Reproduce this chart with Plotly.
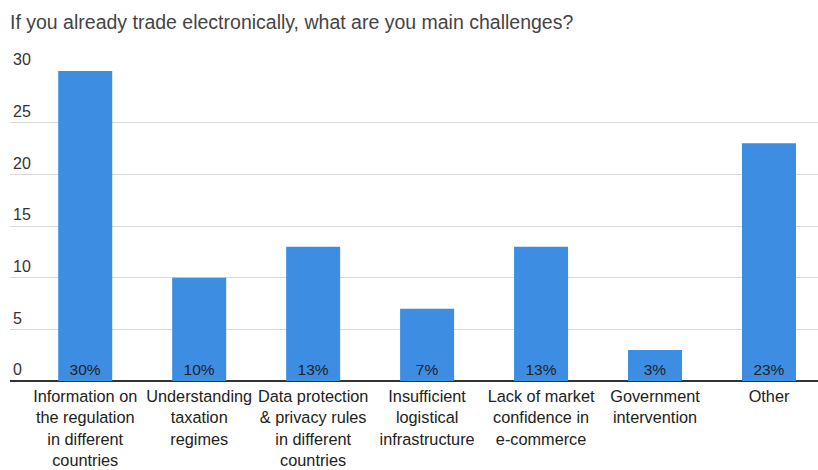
import plotly.graph_objects as go

categories = [
    "Information on<br>the regulation<br>in different<br>countries",
    "Understanding<br>taxation<br>regimes",
    "Data protection<br>& privacy rules<br>in different<br>countries",
    "Insufficient<br>logistical<br>infrastructure",
    "Lack of market<br>confidence in<br>e-commerce",
    "Government<br>intervention",
    "Other",
]
values = [30, 10, 13, 7, 13, 3, 23]
labels = ["30%", "10%", "13%", "7%", "13%", "3%", "23%"]
y_ticks = [0, 5, 10, 15, 20, 25, 30]

fig = go.Figure(go.Bar(
    x=list(range(len(categories))),
    y=values,
    text=labels,
    textposition="inside",
    insidetextanchor="start",
    textangle=0,
    textfont=dict(family="Arial", size=15.5, color="#222222"),
    marker=dict(color="#3d8ee3", line=dict(width=0)),
    width=0.474,
    hoverinfo="skip",
))

fig.update_layout(
    width=818, height=470,
    margin=dict(l=10, r=0, t=71, b=89),
    paper_bgcolor="white", plot_bgcolor="white",
    showlegend=False,
    title=dict(
        text="If you already trade electronically, what are you main challenges?",
        x=0, xref="paper", xanchor="left", y=1 - 22 / 470, yanchor="middle",
        font=dict(family="Arial", size=19.5, color="#444444"),
    ),
    xaxis=dict(
        tickmode="array",
        tickvals=list(range(len(categories))),
        ticktext=categories,
        range=[-0.66, 6.43],
        showgrid=False, zeroline=False, showline=False,
        ticks="", ticklen=0,
        ticklabelstandoff=4,
        tickfont=dict(family="Arial", size=16.3, color="#222222"),
        fixedrange=True,
    ),
    yaxis=dict(
        range=[0, 30],
        tickmode="array",
        tickvals=y_ticks,
        ticktext=[str(v) for v in y_ticks],
        ticklabelposition="inside top",
        ticklabeloverflow="allow",
        showgrid=True, gridcolor="#d9d9d9", gridwidth=1,
        zeroline=True, zerolinecolor="#333333", zerolinewidth=2,
        showline=False, ticks="",
        tickfont=dict(family="Arial", size=16, color="#333333"),
        fixedrange=True,
    ),
    bargap=0.5,
)

fig.write_html("out.html")
